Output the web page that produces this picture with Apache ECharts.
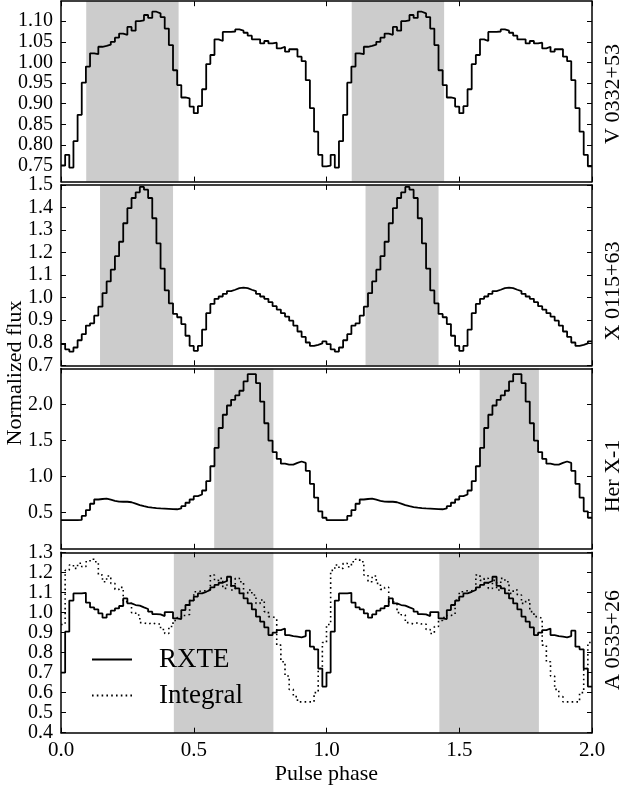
<!DOCTYPE html>
<html><head><meta charset="utf-8">
<script src="https://cdn.jsdelivr.net/npm/echarts@6/dist/echarts.min.js"></script>
<style>html,body{margin:0;padding:0;background:#fff}#c{width:621px;height:787px}</style>
</head><body><div id="c"></div>
<script>
// ---------- data (one pulse cycle, 64 phase bins; the figure shows two cycles) ----------
const binsPerCycle = 64;
const cycles = 2;
const phaseTicks = [0.0, 0.5, 1.0, 1.5, 2.0];

const v0332 = [0.75,0.776,0.745,0.809,0.873,0.951,0.99,1.022,1.020,1.038,
  1.04,1.043,1.05,1.06,1.07,1.067,1.086,1.077,1.10,1.102,
  1.115,1.108,1.123,1.119,1.11,1.082,1.042,0.981,0.945,0.915,
  0.913,0.893,0.877,0.894,0.935,0.996,1.018,1.056,1.052,1.074,
  1.074,1.075,1.08,1.077,1.072,1.065,1.056,1.056,1.046,1.052,
  1.046,1.048,1.034,1.038,1.026,1.032,1.032,1.014,1.003,0.957,
  0.889,0.832,0.776,0.748];

const x0115 = [0.794,0.771,0.761,0.779,0.811,0.838,0.876,0.886,0.920,0.960,
  1.020,1.072,1.124,1.184,1.248,1.330,1.397,1.442,1.467,1.491,
  1.479,1.442,1.352,1.241,1.129,1.032,0.975,0.928,0.913,0.883,
  0.831,0.786,0.764,0.786,0.858,0.931,0.972,0.995,1.005,1.017,
  1.029,1.035,1.042,1.044,1.042,1.035,1.029,1.017,1.005,0.995,
  0.980,0.962,0.947,0.931,0.916,0.898,0.876,0.850,0.826,0.801,
  0.786,0.791,0.797,0.806];

const herx1 = [0.398,0.398,0.398,0.398,0.40,0.455,0.536,0.624,0.683,0.69,
  0.695,0.68,0.665,0.655,0.652,0.652,0.645,0.625,0.605,0.59,
  0.578,0.57,0.564,0.559,0.556,0.553,0.55,0.548,0.56,0.591,
  0.638,0.683,0.729,0.753,0.808,0.937,1.144,1.398,1.674,1.858,
  1.986,2.065,2.125,2.19,2.32,2.42,2.42,2.296,2.04,1.74,
  1.50,1.34,1.245,1.18,1.167,1.167,1.19,1.21,1.19,1.08,
  0.90,0.71,0.52,0.43];

const a0535rxte = [0.70,0.904,1.059,1.095,1.095,1.098,1.049,1.025,1.015,0.995,
  0.974,0.99,1.009,1.02,1.032,1.07,1.045,1.037,1.034,1.025,
  1.017,1.004,0.992,0.99,0.982,1.002,1.002,0.97,0.967,1.012,
  1.037,1.059,1.079,1.095,1.103,1.112,1.125,1.137,1.148,1.157,
  1.178,1.132,1.12,1.095,1.07,1.045,1.015,0.979,0.954,0.925,
  0.887,0.899,0.912,0.92,0.887,0.882,0.879,0.876,0.882,0.909,
  0.829,0.816,0.72,0.63];

const a0535integral = [0.94,1.21,1.237,1.22,1.245,1.228,1.253,1.265,1.253,1.187,
  1.153,1.182,1.145,1.115,1.125,1.054,1.045,0.999,0.987,0.949,
  0.942,0.949,0.942,0.942,0.915,0.895,0.93,0.96,0.975,0.985,
  0.99,1.06,1.103,1.108,1.108,1.115,1.187,1.16,1.17,1.12,
  1.16,1.112,1.17,1.153,1.095,1.112,1.087,1.045,1.062,1.004,
  0.979,0.97,0.837,0.754,0.683,0.616,0.58,0.554,0.554,0.554,
  0.554,0.60,0.72,0.85];

const bandsV0332 = [[0.095,0.443],[1.095,1.443]];
const bandsX0115 = [[0.147,0.422],[1.147,1.422]];
const bandsHerX1 = [[0.577,0.80],[1.577,1.80]];
const bandsA0535 = [[0.425,0.80],[1.425,1.80]];

const yTicksV0332 = [0.75,0.80,0.85,0.90,0.95,1.00,1.05,1.10];
const yTicksX0115 = [0.7,0.8,0.9,1.0,1.1,1.2,1.3,1.4,1.5];
const yTicksHerX1 = [0.5,1.0,1.5,2.0];
const yTicksA0535 = [0.4,0.5,0.6,0.7,0.8,0.9,1.0,1.1,1.2,1.3];

const panelNames = ['V 0332+53','X 0115+63','Her X-1','A 0535+26'];
const legendNames = ['RXTE','Integral'];

// ---------- layout / style ----------
const FONT = 'Liberation Serif';
const panels = [
  {top:1.2,   ymin:0.711, ymax:1.1485, ticks:yTicksV0332, dec:2, bands:bandsV0332, labelY:94},
  {top:184.9, ymin:0.7,   ymax:1.5,    ticks:yTicksX0115, dec:1, bands:bandsX0115, labelY:291},
  {top:368.4, ymin:0.0,   ymax:2.5,    ticks:yTicksHerX1, dec:1, bands:bandsHerX1, labelY:476},
  {top:552.3, ymin:0.4,   ymax:1.3,    ticks:yTicksA0535, dec:1, bands:bandsA0535, labelY:640}
];
const H = 180.4;

function toSteps(arr){
  const pts = [];
  for (let c = 0; c < cycles; c++)
    for (let i = 0; i < binsPerCycle; i++) pts.push([c + i / binsPerCycle, arr[i]]);
  pts.push([cycles, arr[binsPerCycle - 1]]);
  return pts;
}

const axisLine = {show:true, onZero:false, lineStyle:{color:'#000', width:1.5}};
const tick = (vals) => ({show:true, inside:true, length:5, customValues:vals, lineStyle:{color:'#000', width:1}});
const grid = [], xAxis = [], yAxis = [], series = [];
panels.forEach((p, k) => {
  grid.push({left:61, width:531, top:p.top, height:H});
  const isLast = k === panels.length - 1;
  xAxis.push({type:'value', gridIndex:k, position:'bottom', min:0, max:2, z:10,
    axisLine, splitLine:{show:false},
    axisTick:tick(phaseTicks),
    axisLabel:{show:isLast, margin:7, color:'#000', fontFamily:FONT, fontSize:21,
      customValues:phaseTicks, showMinLabel:true, showMaxLabel:true, hideOverlap:false,
      formatter:v => v.toFixed(1)},
    name:isLast ? 'Pulse phase' : '', nameLocation:'middle', nameGap:31,
    nameTextStyle:{fontFamily:FONT, fontSize:22, color:'#000'}});
  xAxis.push({type:'value', gridIndex:k, position:'top', min:0, max:2, z:10,
    axisLine, splitLine:{show:false},
    axisTick:tick(phaseTicks),
    axisLabel:{show:false}});
  yAxis.push({type:'value', gridIndex:k, position:'left', min:p.ymin, max:p.ymax, z:10,
    axisLine, splitLine:{show:false},
    axisTick:tick(p.ticks),
    axisLabel:{show:true, margin:8, color:'#000', fontFamily:FONT, fontSize:20, lineHeight:14,
      interval:0, customValues:p.ticks, showMinLabel:true, showMaxLabel:true, hideOverlap:false,
      formatter:v => v.toFixed(p.dec)}});
  yAxis.push({type:'value', gridIndex:k, position:'right', min:p.ymin, max:p.ymax, z:10,
    axisLine, splitLine:{show:false},
    axisTick:tick(p.ticks),
    axisLabel:{show:false}});
  series.push({type:'line', name:'band'+k, xAxisIndex:2*k, yAxisIndex:2*k, data:[], z:1, silent:true,
    markArea:{silent:true, itemStyle:{color:'#cccccc', opacity:1},
      data:p.bands.map(b => [{xAxis:b[0]}, {xAxis:b[1]}])}});
});

const lineBase = {type:'line', step:'end', symbol:'none', showSymbol:false, z:3, animation:false,
  itemStyle:{color:'#000'}};
series.push(Object.assign({}, lineBase, {name:panelNames[0], xAxisIndex:0, yAxisIndex:0, data:toSteps(v0332), lineStyle:{color:'#000', width:1.8}}));
series.push(Object.assign({}, lineBase, {name:panelNames[1], xAxisIndex:2, yAxisIndex:2, data:toSteps(x0115), lineStyle:{color:'#000', width:1.8}}));
series.push(Object.assign({}, lineBase, {name:panelNames[2], xAxisIndex:4, yAxisIndex:4, data:toSteps(herx1), lineStyle:{color:'#000', width:1.8}}));
series.push(Object.assign({}, lineBase, {name:legendNames[0], xAxisIndex:6, yAxisIndex:6, data:toSteps(a0535rxte), lineStyle:{color:'#000', width:1.8}}));
series.push(Object.assign({}, lineBase, {name:legendNames[1], xAxisIndex:6, yAxisIndex:6, data:toSteps(a0535integral), lineStyle:{color:'#000', width:1.6, type:[1.6,3.2]}}));

const graphic = panels.map((p, k) => ({type:'text', x:613, y:p.labelY, rotation:Math.PI/2,
  style:{text:panelNames[k], fontFamily:FONT, fontSize:22, fill:'#000', align:'center', verticalAlign:'middle'}}));
graphic.push({type:'text', x:15, y:373, rotation:Math.PI/2,
  style:{text:'Normalized flux', fontFamily:FONT, fontSize:22, fill:'#000', align:'center', verticalAlign:'middle'}});

const chart = echarts.init(document.getElementById('c'), null, {renderer:'canvas'});
chart.setOption({
  animation:false,
  backgroundColor:'#fff',
  grid, xAxis, yAxis, series, graphic,
  legend:{data:legendNames, orient:'vertical', left:91, top:646, padding:0,
    itemWidth:40, itemHeight:14, itemGap:9,
    itemStyle:{opacity:0},
    textStyle:{fontFamily:FONT, fontSize:27, lineHeight:27, color:'#000', padding:[0,0,0,22]}}
});
</script></body></html>
